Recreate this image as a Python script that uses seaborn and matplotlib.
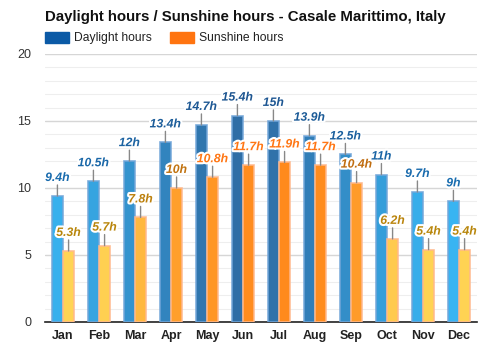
import numpy as np
import pandas as pd
import seaborn as sns
import matplotlib.pyplot as plt
import matplotlib.patheffects as pe
from matplotlib.colors import LinearSegmentedColormap, Normalize

months = ["Jan", "Feb", "Mar", "Apr", "May", "Jun", "Jul", "Aug", "Sep", "Oct", "Nov", "Dec"]
daylight = [9.4, 10.5, 12.0, 13.4, 14.7, 15.4, 15.0, 13.9, 12.5, 11.0, 9.7, 9.0]
sunshine = [5.3, 5.7, 7.8, 10.0, 10.8, 11.7, 11.9, 11.7, 10.4, 6.2, 5.4, 5.4]
day_labels = ["9.4h", "10.5h", "12h", "13.4h", "14.7h", "15.4h", "15h", "13.9h", "12.5h", "11h", "9.7h", "9h"]
sun_labels = ["5.3h", "5.7h", "7.8h", "10h", "10.8h", "11.7h", "11.9h", "11.7h", "10.4h", "6.2h", "5.4h", "5.4h"]

df = pd.DataFrame({
    "month": months * 2,
    "hours": daylight + sunshine,
    "kind": ["Daylight hours"] * 12 + ["Sunshine hours"] * 12,
})

# colour scales by value
day_cmap = LinearSegmentedColormap.from_list("day", ["#38b4f2", "#2f6ea6"])
sun_cmap = LinearSegmentedColormap.from_list("sun", ["#ffd454", "#ff8a1c"])
day_txt = LinearSegmentedColormap.from_list("daytxt", ["#1a6eb0", "#1d5590"])
sun_txt = LinearSegmentedColormap.from_list(
    "suntxt", [(0, "#b8860b"), (0.6, "#bf7c0e"), (0.79, "#c06c10"), (0.81, "#ff7614"), (1, "#ff7614")])
dnorm = Normalize(9.0, 15.4)
snorm = Normalize(5.3, 11.9)

sns.set_theme(style="white")
plt.rcParams["font.family"] = ["Liberation Sans", "DejaVu Sans"]

fig = plt.figure(figsize=(5, 3.5), dpi=100)
ax = fig.add_axes([0.09, 0.08, 0.864, 0.766])

sns.barplot(data=df, x="month", y="hours", hue="kind", width=0.62,
            palette=["#0b5aa6", "#ff7410"], legend=False, ax=ax, zorder=3)

bars = [p for p in ax.patches if p.get_height() > 0]
bars = sorted(bars, key=lambda p: p.get_x())
for i in range(12):
    d, s = bars[2 * i], bars[2 * i + 1]
    d.set_facecolor(day_cmap(dnorm(daylight[i])))
    d.set_edgecolor((0.45, 0.65, 0.85, 0.9))
    d.set_linewidth(1.2)
    s.set_facecolor(sun_cmap(snorm(sunshine[i])))
    s.set_edgecolor((1.0, 0.72, 0.55, 0.9))
    s.set_linewidth(1.2)
    for bar, val, lab, col in [(d, daylight[i], day_labels[i], day_txt(dnorm(daylight[i]))),
                               (s, sunshine[i], sun_labels[i], sun_txt(snorm(sunshine[i])))]:
        cx = bar.get_x() + bar.get_width() / 2
        ax.annotate("", xy=(cx, val), xytext=(0, 11), textcoords="offset pixels",
                    arrowprops=dict(arrowstyle="-", color="#888888", lw=1, shrinkA=0, shrinkB=0),
                    zorder=4)
        ax.annotate(lab, xy=(cx, val), xytext=(0, 12), textcoords="offset pixels",
                    ha="center", va="bottom", fontsize=8.8, fontweight="bold", fontstyle="italic",
                    color=col, zorder=5,
                    path_effects=[pe.withStroke(linewidth=3, foreground="white")])

ax.set_ylim(0, 20)
ax.set_xlim(-0.5, 11.5)
ax.set_yticks([0, 5, 10, 15, 20])
ax.set_yticks(np.arange(0, 21, 1), minor=True)
ax.grid(axis="y", which="major", color="#d6d6d6", lw=1, zorder=0)
ax.grid(axis="y", which="minor", color="#eeeeee", lw=0.8, zorder=0)
ax.set_axisbelow(True)
for sp in ["top", "right", "left"]:
    ax.spines[sp].set_visible(False)
ax.spines["bottom"].set_color("#222222")
ax.spines["bottom"].set_linewidth(1.2)
ax.tick_params(axis="y", which="both", length=0, labelsize=9, labelcolor="#333333", pad=10)
ax.tick_params(axis="x", length=0, labelsize=9, pad=6)
for t in ax.get_xticklabels():
    t.set_fontweight("bold")
    t.set_color("#222222")
ax.set_xlabel("")
ax.set_ylabel("")

fig.text(0.09, 0.952, "Daylight hours / Sunshine hours - Casale Marittimo, Italy",
         fontsize=10.8, fontweight="bold", color="#111111", va="center")
# legend
fig.patches.append(plt.Rectangle((45 / 500, 1 - 43 / 350), 24 / 500, 11 / 350,
                                 transform=fig.transFigure, color="#0b5aa6"))
fig.text(74 / 500, 1 - 38 / 350, "Daylight hours", fontsize=8.7, color="#222222", va="center")
fig.patches.append(plt.Rectangle((170 / 500, 1 - 43 / 350), 24 / 500, 11 / 350,
                                 transform=fig.transFigure, color="#ff7410"))
fig.text(199 / 500, 1 - 38 / 350, "Sunshine hours", fontsize=8.7, color="#222222", va="center")

fig.savefig("out.png", dpi=100)
